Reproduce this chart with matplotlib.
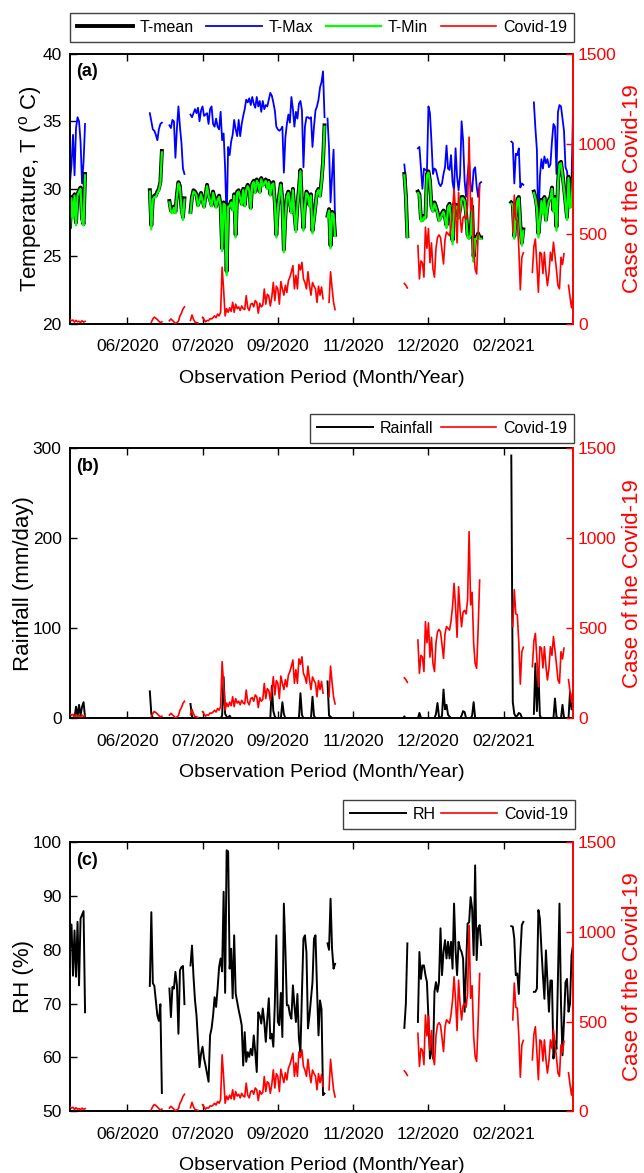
import numpy as np
import matplotlib.pyplot as plt

plt.rcParams['font.family'] = ['Liberation Sans', 'DejaVu Sans']
plt.rcParams['mathtext.default'] = 'regular'

# x axis in days counted from the first day shown
day_span = 334
tick_days = [38, 88, 138, 188, 238, 288]
tick_labels = ['06/2020', '07/2020', '09/2020', '11/2020', '12/2020', '02/2021']

# first day of each block of daily weather records (no data between blocks)
wx_start = [0, 53, 66, 80, 171, 222, 231, 293, 308]

t_max = [
    [30.5, 31.8, 34.0, 31.0, 34.5, 35.3, 35.0, 33.5, 30.4, 32.0, 34.8],
    [35.6, 35.0, 34.4, 34.3, 34.0, 33.6, 34.4, 34.8, 34.9],
    [34.7, 34.5, 35.1, 35.0, 32.3, 34.5, 36.1, 34.6, 33.4, 31.5, 31.1],
    [35.5, 35.3, 35.6, 35.9, 35.6, 36.0, 35.0, 35.8, 36.1, 35.4,
     35.5, 35.6, 34.8, 35.9, 36.1, 34.8, 34.6, 35.2, 34.6, 34.4,
     35.7, 33.6, 34.1, 31.5, 27.5, 33.1, 32.5, 33.5, 34.0, 35.1,
     34.4, 33.9, 35.1, 33.9, 34.8, 35.4, 35.9, 36.6, 36.4, 36.7,
     36.2, 36.8, 36.3, 36.0, 36.8, 36.1, 36.5, 35.7, 36.5, 35.9,
     36.2, 36.1, 36.6, 37.1, 36.9, 36.4, 35.8, 34.6, 34.4, 34.3,
     34.4, 34.6, 31.2, 33.8, 34.8, 35.5, 34.9, 36.8, 35.9, 34.6,
     35.7, 35.2, 36.3, 36.5, 35.8, 31.6, 34.6, 35.3, 35.3, 35.2,
     35.3, 33.1, 34.6, 35.8, 36.1, 36.6, 37.5, 37.9, 38.7, 35.3],
    [35.2, 33.0, 29.0, 31.0, 32.9, 27.6],
    [31.8, 30.6, 26.8],
    [33.0, 33.1, 31.5, 30.0, 31.5, 31.4, 31.3, 36.1, 35.6, 33.5,
     31.1, 31.5, 31.4, 30.9, 30.4, 30.2, 30.4, 31.1, 31.6, 33.2,
     31.5, 31.4, 32.5, 30.5, 29.9, 33.0, 30.9, 29.9, 31.0, 35.0,
     33.6, 30.6, 29.4, 31.0, 32.1, 30.2, 29.8, 31.4, 31.6, 30.2,
     29.4, 30.4, 30.5],
    [33.5, 33.4, 30.4, 32.6, 32.5, 33.0, 30.1, 30.4, 30.3],
    [36.4, 34.5, 32.9, 26.8, 30.9, 32.2, 31.5, 32.4, 31.9, 32.2,
     31.6, 31.8, 33.5, 34.8, 34.6, 31.1, 35.7, 36.2, 36.1, 35.2,
     34.3, 31.6, 31.3, 30.1, 30.0, 30.4, 35.9],
]

t_mean = [
    [27.2, 29.4, 28.0, 29.6, 27.5, 29.6, 29.9, 30.1, 27.8, 27.4, 31.1],
    [29.9, 27.3, 29.3, 29.5, 29.5, 29.8, 30.0, 30.5, 32.8],
    [29.1, 28.4, 28.3, 28.7, 28.3, 29.6, 30.5, 30.2, 28.6, 27.9, 29.3],
    [28.3, 29.4, 29.9, 29.8, 29.6, 28.8, 29.2, 29.7, 29.2, 28.7,
     29.5, 30.3, 29.6, 29.2, 28.8, 29.8, 29.3, 28.7, 29.3, 29.5,
     28.8, 25.6, 29.0, 28.9, 23.9, 28.8, 28.8, 29.1, 28.5, 29.6,
     26.6, 29.8, 29.9, 29.4, 28.9, 30.0, 28.8, 30.0, 30.3, 30.0,
     28.6, 30.4, 30.6, 29.8, 30.7, 30.5, 29.8, 30.8, 30.3, 30.5,
     30.7, 30.1, 30.6, 29.6, 30.4, 30.5, 29.0, 26.6, 28.6, 29.6,
     30.4, 29.1, 25.5, 28.0, 29.5, 29.8, 29.0, 28.3, 30.0, 28.2,
     27.0, 28.8, 30.0, 31.4, 29.0, 27.1, 28.8, 29.8, 29.6, 28.8,
     29.6, 26.9, 27.8, 28.8, 29.8, 30.0, 29.5, 30.6, 32.0, 34.7],
    [28.0, 28.5, 25.8, 28.3, 28.2, 26.6],
    [31.1, 29.5, 26.5],
    [29.8, 29.6, 27.8, 27.7, 28.0, 27.9, 31.1, 31.3, 30.6, 28.7,
     28.4, 29.0, 28.7, 28.3, 27.7, 27.9, 28.2, 28.4, 27.9, 27.3,
     28.7, 28.9, 27.7, 26.2, 28.9, 28.7, 28.8, 27.9, 28.5, 29.4,
     29.4, 29.2, 28.2, 26.6, 26.4, 26.7, 28.7, 25.0, 26.4, 26.4,
     26.7, 26.4, 26.4],
    [29.0, 28.9, 26.5, 28.0, 29.2, 29.4, 27.4, 26.0, 27.0],
    [29.8, 29.4, 28.7, 26.7, 27.9, 29.2, 28.2, 29.4, 27.7, 28.7,
     29.2, 29.4, 30.1, 28.4, 29.4, 27.2, 30.4, 31.9, 32.0, 31.1,
     30.1, 29.0, 27.9, 30.9, 28.7, 28.8, 31.1],
]

t_min = [
    [27.0, 29.3, 27.8, 29.5, 27.3, 29.5, 29.8, 30.0, 27.6, 27.3, 31.0],
    [29.8, 27.0, 29.2, 29.4, 29.4, 29.7, 29.9, 30.4, 32.7],
    [29.0, 28.3, 28.2, 28.6, 28.2, 29.5, 30.4, 30.1, 28.5, 27.7, 29.2],
    [28.2, 29.3, 29.8, 29.7, 29.5, 28.7, 29.1, 29.6, 29.1, 28.6,
     29.4, 30.2, 29.5, 29.1, 28.7, 29.7, 29.2, 28.6, 29.2, 29.4,
     28.7, 25.4, 28.9, 28.8, 23.6, 28.7, 28.7, 29.0, 28.4, 29.5,
     26.4, 29.7, 29.8, 29.3, 28.8, 29.9, 28.7, 29.9, 30.2, 29.9,
     28.5, 30.3, 30.5, 29.7, 30.6, 30.4, 29.7, 30.7, 30.2, 30.4,
     30.6, 30.0, 30.5, 29.5, 30.3, 30.4, 28.9, 26.4, 28.5, 29.5,
     30.3, 29.0, 25.3, 27.9, 29.4, 29.7, 28.9, 28.2, 29.9, 28.1,
     26.8, 28.7, 29.9, 31.3, 28.9, 26.9, 28.7, 29.7, 29.5, 28.7,
     29.5, 26.7, 27.7, 28.7, 29.7, 29.9, 29.4, 30.5, 31.9, 34.6],
    [27.9, 28.4, 25.6, 28.2, 28.1, 26.5],
    [31.0, 29.4, 26.4],
    [29.7, 29.5, 27.6, 27.6, 27.9, 27.8, 31.0, 31.2, 30.5, 28.6,
     28.3, 28.9, 28.6, 28.2, 27.6, 27.8, 28.1, 28.3, 27.8, 27.1,
     28.6, 28.8, 27.6, 25.9, 28.8, 28.6, 28.7, 27.8, 28.4, 29.3,
     29.3, 29.1, 28.1, 26.4, 26.3, 26.6, 28.6, 24.6, 26.3, 26.3,
     26.6, 26.3, 26.3],
    [28.9, 28.8, 26.3, 27.9, 29.1, 29.3, 27.3, 25.8, 26.9],
    [29.7, 29.3, 28.6, 26.4, 27.8, 29.1, 28.1, 29.3, 27.6, 28.6,
     29.1, 29.3, 30.0, 28.3, 29.3, 26.9, 30.3, 31.8, 31.9, 31.0,
     30.0, 28.9, 27.7, 30.8, 28.6, 28.7, 31.0],
]

rain = [
    [2, 0, 1, 0.5, 13, 2, 15, 3, 13, 18, 1],
    [30, 5, 0, 0, 0, 0.5, 0, 0, 0],
    [0, 0, 0, 0, 0, 0, 0, 0, 0, 0, 0],
    [16, 2, 0, 0, 0, 0, 0, 0, 0, 0,
     0, 0, 0, 0, 0, 0, 0, 0, 0, 0,
     0, 3, 46, 5, 2, 0, 3, 0, 0, 0,
     0, 0, 0, 0, 0, 0, 0, 0, 0, 0,
     0, 0, 0, 0, 0, 0, 0, 0, 0, 0,
     0, 0, 0, 0, 36, 8, 2, 0, 0, 0,
     0, 18, 5, 0, 0, 0, 0, 0, 0, 0,
     0, 0, 0, 28, 4, 0, 0, 0, 0, 0,
     0, 24, 3, 0, 0, 0, 0, 0, 0, 0],
    [41, 3, 2, 0, 0, 0],
    [2, 0, 0],
    [0, 6, 1, 0, 0, 0, 0, 0, 0, 0,
     0, 0, 5, 17, 2, 0, 3, 32, 10, 15,
     4, 2, 0, 0, 0, 0, 0, 0, 0, 3,
     8, 7, 0, 0, 0, 0, 3, 18, 1, 0,
     0, 0, 0],
    [292, 18, 5, 2, 3, 6, 5, 1, 0],
    [5, 61, 8, 52, 3, 0, 0, 0, 0, 0,
     0, 0, 0, 0, 22, 2, 0, 0, 0, 15,
     1, 0, 0, 0, 29, 10, 28],
]

rh = [
    [80.0, 84.7, 75.2, 83.6, 75.0, 85.2, 73.4, 85.8, 86.5, 87.2, 68.4],
    [73.3, 87.0, 73.8, 73.3, 70.5, 67.8, 66.8, 69.9, 53.4],
    [72.8, 67.5, 73.1, 72.8, 75.9, 73.4, 64.4, 76.2, 76.8, 77.0, 69.9],
    [77.1, 80.8, 75.0, 70.6, 67.8, 62.9, 58.2, 60.7, 62.0, 59.8,
     58.5, 57.0, 55.5, 64.1, 65.4, 67.8, 71.2, 69.4, 72.8, 76.8,
     78.4, 76.0, 90.8, 72.0, 98.5, 98.3, 76.5, 80.2, 71.0, 82.7,
     71.9, 70.3, 68.8, 67.5, 66.0, 58.5, 64.7, 59.2, 61.0, 60.1,
     61.6, 60.4, 64.1, 61.0, 57.3, 68.4, 67.8, 66.3, 69.1, 66.6,
     62.9, 67.2, 71.0, 63.5, 64.4, 62.0, 70.0, 82.7, 66.6, 66.0,
     72.0, 63.8, 88.6, 80.2, 69.7, 69.7, 68.0, 67.2, 73.4, 69.7,
     66.6, 71.8, 63.5, 61.0, 72.0, 82.1, 82.7, 79.5, 65.4, 67.8,
     71.0, 74.0, 82.1, 82.7, 73.0, 64.1, 70.6, 69.0, 53.0, 53.3],
    [81.2, 80.0, 89.5, 80.2, 76.5, 77.4],
    [65.5, 70.0, 81.2],
    [66.6, 79.6, 74.6, 77.1, 77.1, 75.3, 74.0, 67.2, 59.8, 62.6,
     59.8, 72.2, 74.0, 72.2, 74.0, 84.0, 75.3, 79.6, 81.8, 78.4,
     81.5, 78.4, 81.5, 76.5, 88.6, 80.0, 75.3, 81.5, 80.2, 79.6,
     78.4, 68.5, 76.5, 84.9, 85.1, 89.8, 87.7, 79.0, 95.7, 78.1,
     84.0, 84.6, 80.9],
    [84.4, 84.3, 82.1, 75.3, 75.6, 71.8, 79.0, 84.6, 85.2],
    [72.2, 72.2, 72.8, 87.4, 85.8, 80.2, 75.3, 70.9, 79.9, 74.0,
     68.5, 74.3, 74.3, 59.8, 63.0, 61.6, 75.3, 88.6, 70.0, 60.4,
     66.8, 74.0, 74.6, 68.5, 70.0, 79.0, 80.9],
]

# daily Covid-19 cases, blocks of consecutive reports
covid_start = [0, 54, 66, 80, 88, 172, 222, 231, 294, 307, 331]
covid = [
    [25, 18, 22, 10, 20, 12, 15, 8, 18, 10, 15],
    [10, 28, 38, 32, 25, 15, 8, 12],
    [18, 28, 20, 12, 3, 8, 15, 45, 60, 83, 95],
    [20, 50, 25, 10, 8, 5],
    [37, 25, 12, 20, 18, 30, 28, 35, 45, 35,
     55, 45, 65, 315, 190, 45, 85, 65, 90, 70,
     120, 65, 110, 85, 95, 75, 100, 85, 80, 157,
     90, 75, 110, 115, 95, 130, 120, 60, 115, 95,
     105, 194, 110, 165, 155, 100, 150, 231, 130, 210,
     195, 110, 235, 195, 160, 215, 175, 240, 260, 290,
     324, 195, 270, 195, 330, 300, 342, 250, 230, 195,
     290, 215, 160, 230, 210, 195, 120, 210, 160, 205, 140],
    [120, 290, 200, 120, 80],
    [225, 215, 200],
    [435, 250, 350, 340, 260, 537, 420, 530, 340, 450,
     305, 260, 420, 480, 494, 480, 410, 333, 470, 510,
     500, 490, 540, 620, 750, 620, 450, 731, 600, 509,
     590, 600, 580, 660, 1037, 630, 700, 420, 305, 278,
     500, 768],
    [510, 715, 580, 575, 420, 190, 370, 395],
    [287, 430, 472, 330, 176, 398, 390, 280, 398, 290,
     213, 280, 398, 350, 454, 380, 300, 213, 195, 370,
     330, 390],
    [215, 150, 90, 160],
]


def blocks_to_xy(starts, blocks):
    x, y = [], []
    for s, vals in zip(starts, blocks):
        x += list(range(s, s + len(vals))) + [np.nan]
        y += list(vals) + [np.nan]
    return np.array(x, float), np.array(y, float)


def style_panel(ax, ax2, ylim, yticks, ylabel, tag):
    ax.set_xlim(0, day_span)
    ax.set_xticks(tick_days)
    ax.set_xticklabels(tick_labels)
    ax.set_ylim(*ylim)
    ax.set_yticks(yticks)
    ax.tick_params(direction='in', top=True, length=5, width=1, labelsize=12.5)
    ax.tick_params(axis='x', pad=11)
    ax.tick_params(axis='y', pad=6)
    ax.set_ylabel(ylabel, fontsize=16, labelpad=-1)
    ax.set_xlabel('Observation Period (Month/Year)', fontsize=14, labelpad=11)
    ax.text(0.012, 0.965, tag, transform=ax.transAxes, fontsize=13,
            fontweight='bold', va='top')
    for s in ['left', 'bottom', 'top']:
        ax.spines[s].set_linewidth(1.4)
    ax.spines['right'].set_visible(False)

    ax2.set_ylim(0, 1500)
    ax2.set_yticks([0, 500, 1000, 1500])
    ax2.tick_params(axis='y', direction='in', colors='red', length=5, width=1,
                    labelsize=12.5, pad=3.5)
    for s in ['left', 'bottom', 'top']:
        ax2.spines[s].set_visible(False)
    ax2.spines['right'].set_color('red')
    ax2.spines['right'].set_linewidth(1.4)
    ax2.set_ylabel('Case of the Covid-19', color='red', fontsize=16, labelpad=4)


def add_legend(fig, handles, labels, box):
    leg = fig.legend(handles, labels, loc='lower left', bbox_to_anchor=box,
                     mode='expand', ncol=len(handles), borderaxespad=0,
                     fontsize=11.5, handlelength=3.5, handletextpad=0.4,
                     fancybox=False, edgecolor='0.25', framealpha=1,
                     borderpad=0.45)
    leg.get_frame().set_linewidth(1.0)


cx, cy = blocks_to_xy(covid_start, covid)

fig = plt.figure(figsize=(6.44, 11.73), dpi=100)

# (a) temperature
ax = fig.add_axes([0.1087, 0.7238, 0.7811, 0.2304])
ax2 = ax.twinx()
x, y = blocks_to_xy(wx_start, t_max)
l_max, = ax.plot(x, y, color='#0000FF', lw=1.3)
x, y = blocks_to_xy(wx_start, t_mean)
l_mean, = ax.plot(x, y, color='black', lw=2.8)
x, y = blocks_to_xy(wx_start, t_min)
l_min, = ax.plot(x, y, color='#00FF00', lw=1.6)
l_cov, = ax2.plot(cx, cy, color='#FF0000', lw=1.2)
style_panel(ax, ax2, (20, 40), [20, 25, 30, 35, 40],
            'Temperature, T ($^{o}$ C)', '(a)')
add_legend(fig, [l_mean, l_max, l_min, l_cov],
           ['T-mean', 'T-Max', 'T-Min', 'Covid-19'],
           (0.1087, 0.9642, 0.7826, 0.0273))

# (b) rainfall
ax = fig.add_axes([0.1087, 0.3876, 0.7811, 0.2302])
ax2 = ax.twinx()
x, y = blocks_to_xy(wx_start, rain)
l_rain, = ax.plot(x, y, color='black', lw=1.4)
l_cov, = ax2.plot(cx, cy, color='#FF0000', lw=1.2)
style_panel(ax, ax2, (0, 300), [0, 100, 200, 300], 'Rainfall (mm/day)', '(b)')
add_legend(fig, [l_rain, l_cov], ['Rainfall', 'Covid-19'],
           (0.4814, 0.6223, 0.4099, 0.0264))

# (c) relative humidity
ax = fig.add_axes([0.1087, 0.0526, 0.7811, 0.2294])
ax2 = ax.twinx()
x, y = blocks_to_xy(wx_start, rh)
l_rh, = ax.plot(x, y, color='black', lw=1.4)
l_cov, = ax2.plot(cx, cy, color='#FF0000', lw=1.2)
style_panel(ax, ax2, (50, 100), [50, 60, 70, 80, 90, 100], 'RH (%)', '(c)')
add_legend(fig, [l_rh, l_cov], ['RH', 'Covid-19'],
           (0.5326, 0.2933, 0.3602, 0.0264))

fig.savefig('out.png', dpi=100)
